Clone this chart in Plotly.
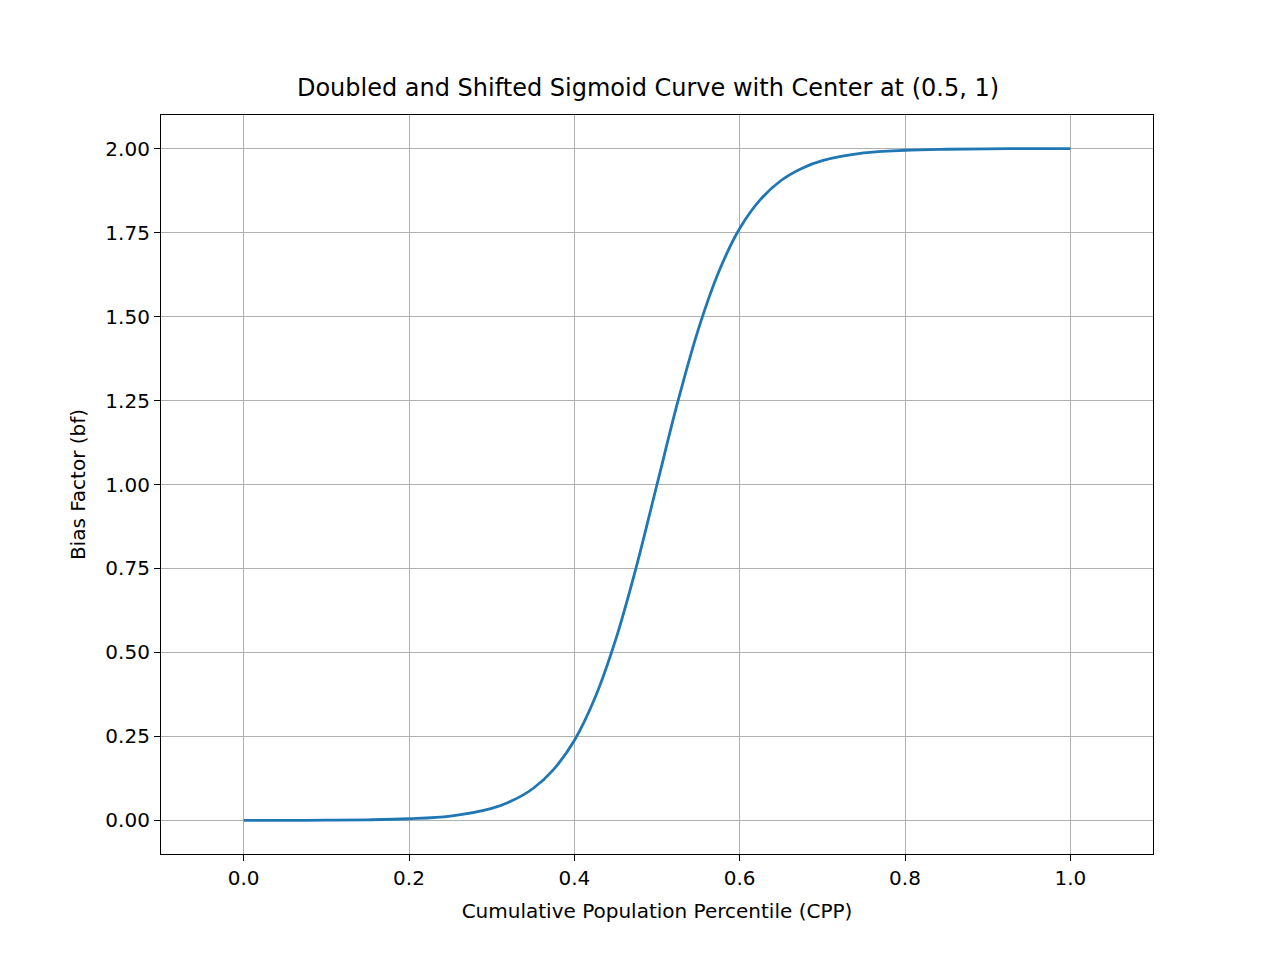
import plotly.graph_objects as go

cpp = [0.0, 0.05, 0.1, 0.15, 0.2, 0.25, 0.3, 0.325, 0.35, 0.375, 0.4, 0.425, 0.45, 0.475, 0.5,
       0.525, 0.55, 0.575, 0.6, 0.625, 0.65, 0.675, 0.7, 0.75, 0.8, 0.85, 0.9, 0.95, 1.0]
bf = [0.0001, 0.0002, 0.0007, 0.0018, 0.005, 0.013, 0.036, 0.059, 0.095, 0.152, 0.238, 0.365, 0.538, 0.755, 1.0,
      1.245, 1.462, 1.635, 1.762, 1.848, 1.905, 1.941, 1.964, 1.987, 1.995, 1.998, 1.9993, 1.9998, 1.9999]

x_ticks = [0.0, 0.2, 0.4, 0.6, 0.8, 1.0]
y_ticks = [0.0, 0.25, 0.5, 0.75, 1.0, 1.25, 1.5, 1.75, 2.0]

fig = go.Figure(go.Scatter(x=cpp, y=bf, mode="lines", line=dict(color="#1f77b4", width=2.8, shape="spline")))

ax = dict(showline=True, linecolor="black", linewidth=1.2, mirror=True, ticks="outside", ticklen=6,
          tickcolor="black", showgrid=True, gridcolor="#b0b0b0", gridwidth=1.2, zeroline=False,
          tickfont=dict(size=20, color="black"), title_font=dict(size=20, color="black"))
fig.update_xaxes(**ax, range=[-0.1, 1.1], tickvals=x_ticks, ticktext=[f"{v:.1f}" for v in x_ticks],
                 title_text="Cumulative Population Percentile (CPP)", title_standoff=14)
fig.update_yaxes(**ax, range=[-0.1, 2.1], tickvals=y_ticks, ticktext=[f"{v:.2f}" for v in y_ticks],
                 title_text="Bias Factor (bf)", title_standoff=14)
fig.update_layout(
    width=1280, height=960, plot_bgcolor="white", paper_bgcolor="white",
    font=dict(family="DejaVu Sans", color="black"),
    margin=dict(l=153, r=135, t=107, b=114), showlegend=False,
    title=dict(text="Doubled and Shifted Sigmoid Curve with Center at (0.5, 1)", x=0.5, xanchor="center",
               y=1 - 80/960, yanchor="middle", font=dict(size=24, color="black")),
)
fig.write_html("out.html")
